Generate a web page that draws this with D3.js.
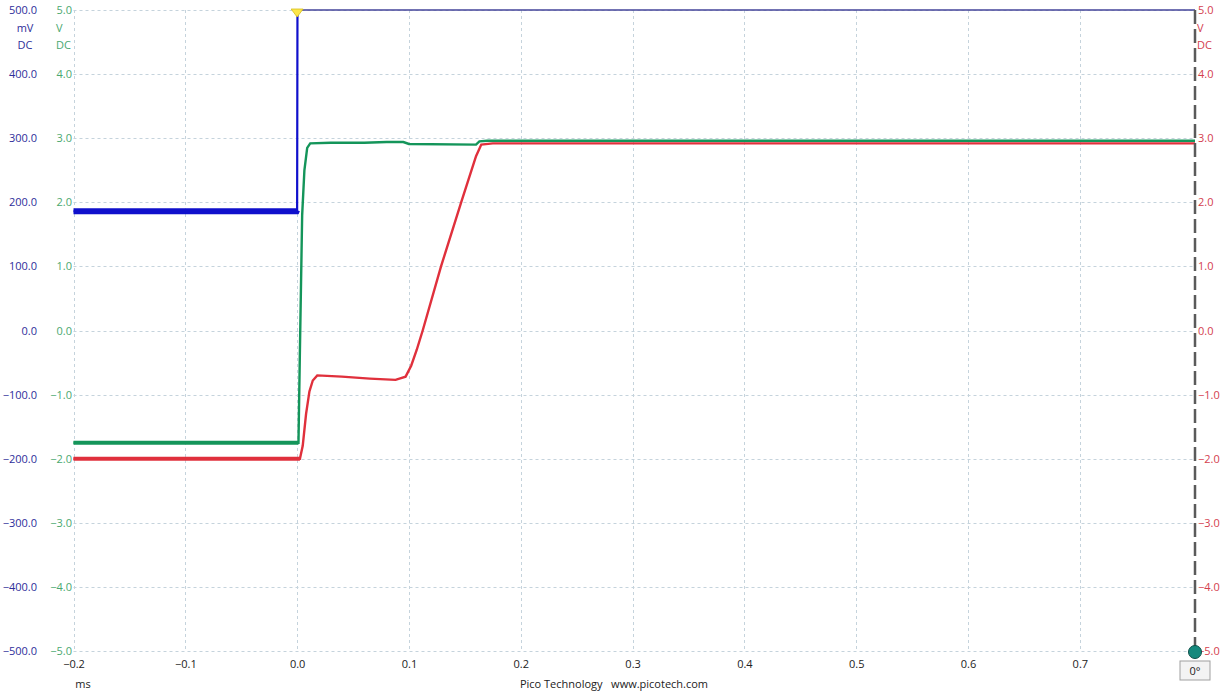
<!DOCTYPE html>
<html><head><meta charset="utf-8">
<script src="https://cdn.jsdelivr.net/npm/d3@7"></script>
<style>
body{margin:0;background:#fff;}
svg{display:block;font-family:"Open Sans","Noto Sans",sans-serif;}
</style></head>
<body><svg id="c" width="1230" height="691"></svg>
<script>
// ---- data ----
const xTicks = [-0.2,-0.1,0.0,0.1,0.2,0.3,0.4,0.5,0.6,0.7];
const mvTicks = [500,400,300,200,100,0,-100,-200,-300,-400,-500];
const vTicks = [5,4,3,2,1,0,-1,-2,-3,-4,-5];

// Channel A (blue, mV)
const blueT  = [-0.2, -0.0005, 0.0, 0.0003, 0.803];
const blueMV = [186, 186, 188, 500, 500];

// Channel B (green, V)
const greenT = [-0.2, 0.0012, 0.0025, 0.0045, 0.0065, 0.009, 0.0117, 0.03, 0.06, 0.08, 0.095, 0.1, 0.16, 0.163, 0.17, 0.803];
const greenV = [-1.75, -1.75, -0.3, 1.8, 2.5, 2.85, 2.92, 2.93, 2.93, 2.94, 2.94, 2.91, 2.90, 2.95, 2.96, 2.96];

// Channel C (red, V)
const redT = [-0.2, 0.0025, 0.005, 0.008, 0.011, 0.014, 0.018, 0.04, 0.065, 0.088, 0.097, 0.102, 0.107, 0.1123, 0.1287, 0.1467, 0.16, 0.1647, 0.175, 0.803];
const redV = [-2.0, -2.0, -1.8, -1.3, -0.95, -0.78, -0.7, -0.72, -0.75, -0.77, -0.72, -0.55, -0.3, 0.0, 1.0, 2.0, 2.72, 2.9, 2.92, 2.92];

// ---- layout ----
const L = 73.5, R = 1195, T = 10, B = 651;
const svg = d3.select("#c");
const x = d3.scaleLinear().domain([-0.2, 0.803]).range([L, R]);
const yMV = d3.scaleLinear().domain([-500, 500]).range([B, T]);
const yV = d3.scaleLinear().domain([-5, 5]).range([B, T]);

// grid
const grid = svg.append("g").attr("stroke", "#c5d3dc").attr("stroke-width", 1).attr("stroke-dasharray", "3,3");
xTicks.forEach(t => grid.append("line").attr("x1", Math.round(x(t))+0.5).attr("x2", Math.round(x(t))+0.5).attr("y1", T).attr("y2", B));
vTicks.forEach(v => grid.append("line").attr("x1", L).attr("x2", R).attr("y1", Math.round(yV(v))+0.5).attr("y2", Math.round(yV(v))+0.5));

// axes
function styleAxis(g, color){
  g.select(".domain").remove();
  g.selectAll("text").attr("fill", color).style("font-size", "11px").style("font-family", '"Open Sans","Noto Sans",sans-serif');
}
svg.append("g").attr("transform", "translate(40,0)")
  .call(d3.axisLeft(yMV).tickValues(mvTicks).tickSize(0).tickPadding(3).tickFormat(d3.format(".1f")))
  .call(g => styleAxis(g, "#2e2e9a"));
svg.append("g").attr("transform", "translate(75,0)")
  .call(d3.axisLeft(yV).tickValues(vTicks).tickSize(0).tickPadding(3).tickFormat(d3.format(".1f")))
  .call(g => styleAxis(g, "#4aa870"));
svg.append("g").attr("transform", "translate(1195,0)")
  .call(d3.axisRight(yV).tickValues(vTicks).tickSize(0).tickPadding(3).tickFormat(d3.format(".1f")))
  .call(g => styleAxis(g, "#d4404e"));
svg.append("g").attr("transform", "translate(0,660)")
  .call(d3.axisBottom(x).tickValues(xTicks).tickSize(0).tickPadding(0).tickFormat(d3.format(".1f")))
  .call(g => styleAxis(g, "#222"));

// unit labels
const unit = (t, xx, yy, c, anchor) => svg.append("text").text(t).attr("x", xx).attr("y", yy)
  .attr("fill", c).attr("text-anchor", anchor).attr("dy", "0.35em").style("font-size", "11px");
unit("mV", 25, 28, "#2e2e9a", "middle");
unit("DC", 25, 45, "#2e2e9a", "middle");
unit("V", 56, 28, "#4aa870", "start");
unit("DC", 56, 45, "#4aa870", "start");
unit("V", 1197, 28, "#d4404e", "start");
unit("DC", 1197, 45, "#d4404e", "start");
unit("ms", 83, 684, "#222", "middle");
unit("Pico Technology   www.picotech.com", 614, 684, "#222", "middle").attr("xml:space", "preserve");

// traces
const pts = (ts, vs) => ts.map((t, i) => [t, vs[i]]);
const lineMV = d3.line().x(d => x(d[0])).y(d => yMV(d[1]));
const lineV = d3.line().x(d => x(d[0])).y(d => yV(d[1]));

const red = pts(redT, redV), green = pts(greenT, greenV), blue = pts(blueT, blueMV);

// red
svg.append("path").attr("d", lineV(red.filter(d => d[0] <= 0.0025))).attr("fill", "none").attr("stroke", "#e0303c").attr("stroke-width", 4);
svg.append("path").attr("d", lineV(red)).attr("fill", "none").attr("stroke", "#e0303c").attr("stroke-width", 2.4);
// green
svg.append("path").attr("d", lineV(green.filter(d => d[0] <= 0.0012))).attr("fill", "none").attr("stroke", "#14955a").attr("stroke-width", 4);
svg.append("path").attr("d", lineV(green)).attr("fill", "none").attr("stroke", "#14955a").attr("stroke-width", 2.4);
// blue
svg.append("path").attr("d", lineMV(blue.filter(d => d[0] <= 0))).attr("fill", "none").attr("stroke", "#1010cc").attr("stroke-width", 6);
svg.append("path").attr("d", lineMV(blue.filter(d => d[0] <= 0.0003))).attr("fill", "none").attr("stroke", "#1010cc").attr("stroke-width", 2.2);
svg.append("path").attr("d", lineMV(blue.filter(d => d[1] >= 500))).attr("fill", "none").attr("stroke", "#44449a").attr("stroke-width", 1.6);

// right ruler
svg.append("line").attr("x1", R).attr("x2", R).attr("y1", T).attr("y2", B)
  .attr("stroke", "#5a5a5a").attr("stroke-width", 2.5).attr("stroke-dasharray", "14,5");

// trigger marker
const tx = x(0);
svg.append("path").attr("d", `M${tx-6},${T-1}L${tx+6},${T-1}L${tx},${T+7}Z`)
  .attr("fill", "#fde64a").attr("stroke", "#d6bf1a").attr("stroke-width", 0.8);

// bottom-right handle and phase box
svg.append("circle").attr("cx", R).attr("cy", B+1).attr("r", 6.5).attr("fill", "#15897d").attr("stroke", "#0d4f48").attr("stroke-width", 1);
svg.append("rect").attr("x", 1180).attr("y", 661).attr("width", 30).attr("height", 19).attr("fill", "#f3f3f3").attr("stroke", "#a0a0a0");
svg.append("text").text("0°").attr("x", 1195).attr("y", 671).attr("dy", "0.35em").attr("text-anchor", "middle").attr("fill", "#222").style("font-size", "11px");
</script></body></html>
